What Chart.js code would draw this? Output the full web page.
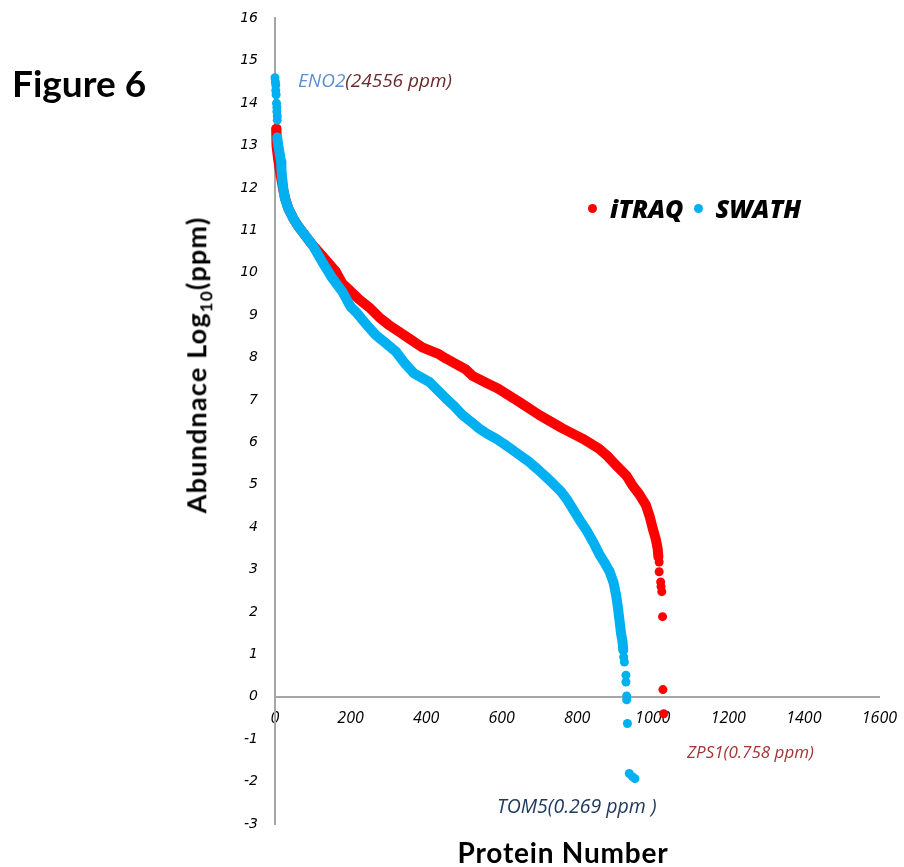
<!DOCTYPE html>
<html>
<head>
<meta charset="utf-8">
<script src="https://cdn.jsdelivr.net/npm/chart.js@4"></script>
<style>
body{margin:0;background:#fff;overflow:hidden;}
#wrap{position:relative;width:904px;height:867px;overflow:hidden;}
#chart{position:absolute;left:0;top:-7px;}
.txt{position:absolute;white-space:nowrap;line-height:1;}
#fig{left:12px;top:60px;font:bold 37px Lato,"Open Sans",sans-serif;}
#eno{left:298px;top:67px;font:italic 19px "Open Sans",sans-serif;color:#6b2a2a;}
#eno span{color:#5b8fd0;}
#zps{left:687px;top:740px;font:italic 17px "Open Sans",sans-serif;color:#a33434;}
#tom{left:497px;top:792px;font:italic 19.5px "Open Sans",sans-serif;color:#1f3a60;}
#legend{left:588px;top:191px;font:bold italic 25px "Open Sans",sans-serif;display:flex;align-items:center;}
#legend i{display:inline-block;width:9px;height:9px;border-radius:50%;margin-right:13px;}
#legend b{margin-right:10px;}
#ytitle{left:198px;top:365px;transform:translate(-50%,-50%) rotate(-90deg);font:bold 27px Lato,"Open Sans",sans-serif;letter-spacing:1.2px;}
#ytitle sub{font-size:17px;}
#xtitle{left:563px;top:852px;transform:translate(-50%,-50%);font:bold 28px Lato,"Open Sans",sans-serif;letter-spacing:0.8px;}
</style>
</head>
<body>
<div id="wrap">
<canvas id="chart" width="909" height="874"></canvas>
<div class="txt" id="fig">Figure 6</div>
<div class="txt" id="eno"><span>ENO2</span>(24556 ppm)</div>
<div class="txt" id="legend"><i style="background:#ff0000"></i><b>iTRAQ</b><i style="background:#00b0f0"></i><b>SWATH</b></div>
<div class="txt" id="zps">ZPS1(0.758 ppm)</div>
<div class="txt" id="tom">TOM5(0.269 ppm )</div>
<div class="txt" id="ytitle">Abundnace Log<sub>10</sub>(ppm)</div>
<div class="txt" id="xtitle">Protein Number</div>
</div>
<script>
/* protein rank vs log10 abundance, [rank, log10 ppm] */

const itraqCurve = [
[3,13.4],[4,13.0],[8,12.7],[13,12.4],[18,12.15],[22,11.95],[27,11.75],
[35,11.52],[48,11.29],[62,11.09],[79,10.89],[99,10.66],[125,10.40],[161,10.03],
[178,9.75],[196,9.60],[222,9.38],[250,9.18],[276,8.95],[300,8.78],[330,8.60],
[355,8.45],[390,8.24],[434,8.08],[452,7.98],[505,7.72],[523,7.57],[560,7.40],
[590,7.27],[646,6.96],[699,6.65],[761,6.33],[814,6.09],[858,5.85],[880,5.68],
[902,5.47],[930,5.22],[946,4.99],[964,4.78],[982,4.52],[992,4.25],[1000,3.97],
[1008,3.72],[1013,3.50],[1015,3.30]
];

const itraqTail = [
[1017,3.18],[1017,2.95],[1021,2.71],[1022,2.60],[1024,2.48],[1026,1.89],[1027,0.17],[1029,-0.40]
];

const swathHead = [
[0,14.6],[1,14.5],[2,14.43],[2,14.3],[3,14.2],[4,14.0],[5,13.9],[5,13.8],[6,13.7],[6,13.6]
];

const swathCurve = [
[6,13.19],[9,12.98],[13,12.78],[16,12.62],[17,12.43],[19,12.23],[22,11.99],[26,11.76],
[35,11.52],[48,11.29],[62,11.09],[79,10.89],[99,10.66],[125,10.26],[152,9.87],
[178,9.56],[200,9.20],[214,9.08],[240,8.80],[267,8.53],[292,8.35],[320,8.14],
[345,7.85],[368,7.63],[408,7.43],[434,7.20],[452,7.04],[475,6.85],[496,6.65],
[520,6.48],[540,6.33],[562,6.20],[585,6.09],[607,5.96],[629,5.82],[651,5.68],
[673,5.54],[695,5.37],[717,5.19],[737,5.02],[757,4.84],[774,4.64],[792,4.38],
[810,4.12],[827,3.89],[844,3.62],[860,3.34],[874,3.14],[886,2.95],[896,2.70],
[903,2.40],[907,2.16],[912,1.80],[916,1.50],[920,1.30],[922,1.10]
];

const swathTail = [
[923,0.94],[925,0.82],[929,0.51],[929,0.35],[931,0.02],[931,-0.07],[933,-0.63],
[938,-1.81],[947,-1.89],[953,-1.93]
];

const xTicks = [0,200,400,600,800,1000,1200,1400,1600];
const yMin = -3, yMax = 16;

const RED = "#ff0000";
const BLUE = "#00b0f0";

const toXY = arr => arr.map(p => ({x:p[0], y:p[1]}));

function curve(data, color, order){
return {
data: toXY(data),
showLine: true,
borderColor: color,
backgroundColor: color,
borderWidth: 10,
borderCapStyle: "round",
borderJoinStyle: "round",
pointRadius: 4.5,
pointBorderWidth: 0,
order: order,
clip: false
};
}

function dots(data, color, order){
return {
data: toXY(data),
showLine: false,
backgroundColor: color,
borderColor: color,
pointRadius: 4.5,
pointBorderWidth: 0,
order: order,
clip: false
};
}

new Chart(document.getElementById("chart"), {
type: "scatter",
data: {
datasets: [
curve(itraqCurve, RED, 2),
dots(itraqTail, RED, 2),
curve(swathCurve, BLUE, 1),
dots(swathHead, BLUE, 1),
dots(swathTail, BLUE, 1)
]
},
options: {
responsive: false,
devicePixelRatio: 1,
animation: false,
layout: {padding: {left:0, top:10, right:19, bottom:43}},
plugins: {legend: {display:false}, tooltip: {enabled:false}},
scales: {
x: {
type: "linear",
position: {y: 0},
min: 0, max: 1600,
afterBuildTicks: s => { s.ticks = xTicks.map(v => ({value:v})); },
grid: {display:false, drawTicks:false},
border: {display:true, color:"#a6a6a6", width:2},
ticks: {color:"#000", padding:12, maxRotation:0,
callback: v => String(v),
font: {family:"'Open Sans', sans-serif", size:16, style:"italic"}}
},
y: {
type: "linear",
min: yMin, max: yMax,
afterFit: s => { s.width = 275; },
grid: {display:false, drawTicks:false},
border: {display:true, color:"#a6a6a6", width:2},
ticks: {stepSize:1, color:"#000", padding:17,
font: {family:"'DejaVu Sans', sans-serif", size:14, style:"italic"}}
}
}
}
});
</script>
</body>
</html>
